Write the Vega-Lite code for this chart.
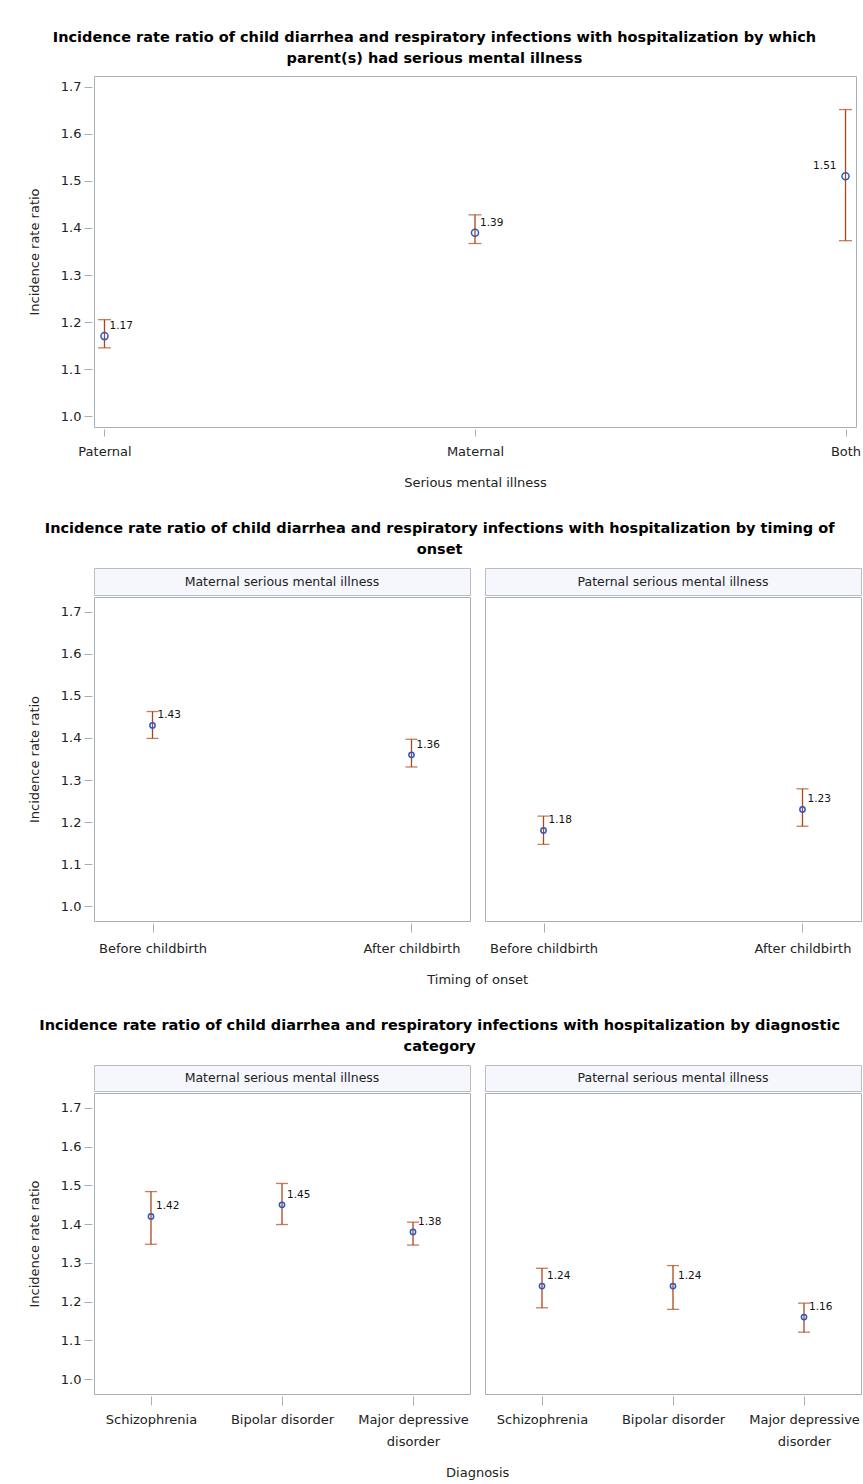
{
  "$schema": "https://vega.github.io/schema/vega-lite/v6.json",
  "padding": {"left": 27, "top": 29, "right": 0, "bottom": 0},
  "background": "white",
  "spacing": 31,
  "config": {
    "font": "DejaVu Sans",
    "view": {"stroke": "#a9b0b5"},
    "axis": {"labelFont": "DejaVu Sans", "labelFontSize": 13, "labelColor": "#222222", "titleFont": "DejaVu Sans", "titleFontSize": 13, "titleFontWeight": "normal", "titleColor": "#222222", "tickColor": "#a9b0b5", "domain": false, "grid": false},
    "title": {"font": "DejaVu Sans", "fontSize": 14.5, "fontWeight": "bold", "color": "#000000", "anchor": "middle", "lineHeight": 21, "offset": 10},
    "concat": {"spacing": 13}
  },
  "datasets": {
    "overall": [
      {"parent": "Paternal", "irr": 1.17, "lower": 1.145, "upper": 1.205},
      {"parent": "Maternal", "irr": 1.39, "lower": 1.367, "upper": 1.428},
      {"parent": "Both", "irr": 1.51, "lower": 1.373, "upper": 1.652}
    ],
    "timing": [
      {"panel": "Maternal serious mental illness", "timing": "Before childbirth", "irr": 1.43, "lower": 1.399, "upper": 1.463},
      {"panel": "Maternal serious mental illness", "timing": "After childbirth", "irr": 1.36, "lower": 1.331, "upper": 1.397},
      {"panel": "Paternal serious mental illness", "timing": "Before childbirth", "irr": 1.18, "lower": 1.147, "upper": 1.214},
      {"panel": "Paternal serious mental illness", "timing": "After childbirth", "irr": 1.23, "lower": 1.19, "upper": 1.279}
    ],
    "diagnosis": [
      {"panel": "Maternal serious mental illness", "diagnosis": "Schizophrenia", "irr": 1.42, "lower": 1.348, "upper": 1.484},
      {"panel": "Maternal serious mental illness", "diagnosis": "Bipolar disorder", "irr": 1.45, "lower": 1.399, "upper": 1.505},
      {"panel": "Maternal serious mental illness", "diagnosis": "Major depressive disorder", "irr": 1.38, "lower": 1.346, "upper": 1.405},
      {"panel": "Paternal serious mental illness", "diagnosis": "Schizophrenia", "irr": 1.24, "lower": 1.184, "upper": 1.286},
      {"panel": "Paternal serious mental illness", "diagnosis": "Bipolar disorder", "irr": 1.24, "lower": 1.18, "upper": 1.293},
      {"panel": "Paternal serious mental illness", "diagnosis": "Major depressive disorder", "irr": 1.16, "lower": 1.121, "upper": 1.196}
    ]
  },
  "vconcat": [
    {
      "title": {"text": ["Incidence rate ratio of child diarrhea and respiratory infections with hospitalization by which", "parent(s) had serious mental illness"], "frame": "bounds", "dx": -10},
      "data": {"name": "overall"},
      "width": 762,
      "height": 351,
      "encoding": {
        "x": {"field": "parent", "type": "nominal", "sort": ["Paternal", "Maternal", "Both"], "scale": {"type": "point", "padding": 0.0283}, "axis": {"labelAngle": 0, "offset": 2, "tickSize": 7, "labelPadding": 9, "titlePadding": 18}, "title": "Serious mental illness"}
      },
      "layer": [
        {"mark": {"type": "rule", "color": "#b04416", "strokeWidth": 1.3},
         "encoding": {"y": {"field": "lower", "type": "quantitative", "scale": {"domain": [0.9766, 1.7234], "nice": false, "zero": false}, "axis": {"values": [1, 1.1, 1.2, 1.3, 1.4, 1.5, 1.6, 1.7], "format": ".1f", "offset": 2, "tickSize": 8, "labelPadding": 3, "titlePadding": 19}, "title": "Incidence rate ratio"}, "y2": {"field": "upper"}}},
        {"mark": {"type": "tick", "orient": "horizontal", "size": 13, "thickness": 1.3, "color": "#b04416"},
         "encoding": {"y": {"field": "lower", "type": "quantitative", "title": "Incidence rate ratio"}}},
        {"mark": {"type": "tick", "orient": "horizontal", "size": 13, "thickness": 1.3, "color": "#b04416"},
         "encoding": {"y": {"field": "upper", "type": "quantitative", "title": "Incidence rate ratio"}}},
        {"mark": {"type": "point", "shape": "circle", "filled": false, "size": 50, "strokeWidth": 1.5, "color": "#2b59c3", "opacity": 1},
         "encoding": {"y": {"field": "irr", "type": "quantitative", "title": "Incidence rate ratio"}}},
        {"transform": [{"filter": "datum.parent != 'Both'"}],
         "mark": {"type": "text", "align": "left", "baseline": "middle", "dx": 5, "dy": -10, "fontSize": 10.5, "color": "#111111"},
         "encoding": {"y": {"field": "irr", "type": "quantitative", "title": "Incidence rate ratio"}, "text": {"field": "irr", "type": "quantitative", "format": ".2f"}}},
        {"transform": [{"filter": "datum.parent == 'Both'"}],
         "mark": {"type": "text", "align": "right", "baseline": "middle", "dx": -9, "dy": -10, "fontSize": 10.5, "color": "#111111"},
         "encoding": {"y": {"field": "irr", "type": "quantitative", "title": "Incidence rate ratio"}, "text": {"field": "irr", "type": "quantitative", "format": ".2f"}}}
      ]
    },
    {
      "title": {"text": ["Incidence rate ratio of child diarrhea and respiratory infections with hospitalization by timing of", "onset"], "dx": -5},
      "vconcat": [
        {
          "title": {"text": "Timing of onset", "orient": "bottom", "fontSize": 13, "fontWeight": "normal", "color": "#222222", "offset": 18, "frame": "bounds", "dx": 33},
          "hconcat": [
            {
              "spacing": 0,
              "vconcat": [
                {"data": {"name": "timing"}, "width": 376, "height": 27, "view": {"fill": "#f5f7fc", "stroke": "#b8bec2"},
                 "transform": [{"filter": "datum.panel == 'Maternal serious mental illness'"}, {"aggregate": [{"op": "count", "as": "n"}], "groupby": ["panel"]}],
                 "mark": {"type": "text", "fontSize": 12.5, "color": "#222222", "baseline": "middle", "align": "center"},
                 "encoding": {"text": {"field": "panel", "type": "nominal"}}},
                {"data": {"name": "timing"}, "width": 376, "height": 324,
                 "transform": [{"filter": "datum.panel == 'Maternal serious mental illness'"}],
                 "encoding": {"x": {"field": "timing", "type": "nominal", "sort": ["Before childbirth", "After childbirth"], "scale": {"type": "point", "padding": 0.2259}, "axis": {"labelAngle": 0, "offset": 2, "tickSize": 9, "labelPadding": 10}, "title": null}},
                 "layer": [
                   {"mark": {"type": "rule", "color": "#b04416", "strokeWidth": 1.3},
                    "encoding": {"y": {"field": "lower", "type": "quantitative", "scale": {"domain": [0.9645, 1.7355], "nice": false, "zero": false}, "axis": {"values": [1, 1.1, 1.2, 1.3, 1.4, 1.5, 1.6, 1.7], "format": ".1f", "offset": 2, "tickSize": 8, "labelPadding": 3, "titlePadding": 19}, "title": "Incidence rate ratio"}, "y2": {"field": "upper"}}},
                   {"mark": {"type": "tick", "orient": "horizontal", "size": 12, "thickness": 1.3, "color": "#b04416"},
                    "encoding": {"y": {"field": "lower", "type": "quantitative", "title": "Incidence rate ratio"}}},
                   {"mark": {"type": "tick", "orient": "horizontal", "size": 12, "thickness": 1.3, "color": "#b04416"},
                    "encoding": {"y": {"field": "upper", "type": "quantitative", "title": "Incidence rate ratio"}}},
                   {"mark": {"type": "point", "shape": "circle", "filled": false, "size": 28, "strokeWidth": 1.5, "color": "#2b59c3", "opacity": 1},
                    "encoding": {"y": {"field": "irr", "type": "quantitative", "title": "Incidence rate ratio"}}},
                   {"mark": {"type": "text", "align": "left", "baseline": "middle", "dx": 5, "dy": -10, "fontSize": 10.5, "color": "#111111"},
                    "encoding": {"y": {"field": "irr", "type": "quantitative", "title": "Incidence rate ratio"}, "text": {"field": "irr", "type": "quantitative", "format": ".2f"}}}
                 ]}
              ]
            },
            {
              "spacing": 0,
              "vconcat": [
                {"data": {"name": "timing"}, "width": 376, "height": 27, "view": {"fill": "#f5f7fc", "stroke": "#b8bec2"},
                 "transform": [{"filter": "datum.panel == 'Paternal serious mental illness'"}, {"aggregate": [{"op": "count", "as": "n"}], "groupby": ["panel"]}],
                 "mark": {"type": "text", "fontSize": 12.5, "color": "#222222", "baseline": "middle", "align": "center"},
                 "encoding": {"text": {"field": "panel", "type": "nominal"}}},
                {"data": {"name": "timing"}, "width": 376, "height": 324,
                 "transform": [{"filter": "datum.panel == 'Paternal serious mental illness'"}],
                 "encoding": {"x": {"field": "timing", "type": "nominal", "sort": ["Before childbirth", "After childbirth"], "scale": {"type": "point", "padding": 0.2259}, "axis": {"labelAngle": 0, "offset": 2, "tickSize": 9, "labelPadding": 10}, "title": null}},
                 "layer": [
                   {"mark": {"type": "rule", "color": "#b04416", "strokeWidth": 1.3},
                    "encoding": {"y": {"field": "lower", "type": "quantitative", "scale": {"domain": [0.9645, 1.7355], "nice": false, "zero": false}, "axis": null}, "y2": {"field": "upper"}}},
                   {"mark": {"type": "tick", "orient": "horizontal", "size": 12, "thickness": 1.3, "color": "#b04416"},
                    "encoding": {"y": {"field": "lower", "type": "quantitative", "axis": null}}},
                   {"mark": {"type": "tick", "orient": "horizontal", "size": 12, "thickness": 1.3, "color": "#b04416"},
                    "encoding": {"y": {"field": "upper", "type": "quantitative", "axis": null}}},
                   {"mark": {"type": "point", "shape": "circle", "filled": false, "size": 28, "strokeWidth": 1.5, "color": "#2b59c3", "opacity": 1},
                    "encoding": {"y": {"field": "irr", "type": "quantitative", "axis": null}}},
                   {"mark": {"type": "text", "align": "left", "baseline": "middle", "dx": 5, "dy": -10, "fontSize": 10.5, "color": "#111111"},
                    "encoding": {"y": {"field": "irr", "type": "quantitative", "axis": null}, "text": {"field": "irr", "type": "quantitative", "format": ".2f"}}}
                 ]}
              ]
            }
          ]
        }
      ]
    },
    {
      "title": {"text": ["Incidence rate ratio of child diarrhea and respiratory infections with hospitalization by diagnostic", "category"], "dx": -5},
      "vconcat": [
        {
          "title": {"text": "Diagnosis", "orient": "bottom", "fontSize": 13, "fontWeight": "normal", "color": "#222222", "offset": 18, "frame": "bounds", "dx": 33},
          "hconcat": [
            {
              "spacing": 0,
              "vconcat": [
                {"data": {"name": "diagnosis"}, "width": 376, "height": 26, "view": {"fill": "#f5f7fc", "stroke": "#b8bec2"},
                 "transform": [{"filter": "datum.panel == 'Maternal serious mental illness'"}, {"aggregate": [{"op": "count", "as": "n"}], "groupby": ["panel"]}],
                 "mark": {"type": "text", "fontSize": 12.5, "color": "#222222", "baseline": "middle", "align": "center"},
                 "encoding": {"text": {"field": "panel", "type": "nominal"}}},
                {"data": {"name": "diagnosis"}, "width": 376, "height": 301,
                 "transform": [{"filter": "datum.panel == 'Maternal serious mental illness'"}],
                 "encoding": {"x": {"field": "diagnosis", "type": "nominal", "sort": ["Schizophrenia", "Bipolar disorder", "Major depressive disorder"], "scale": {"type": "point", "padding": 0.435}, "axis": {"labelAngle": 0, "offset": 2, "tickSize": 9, "labelPadding": 8, "labelLineHeight": 22, "labelExpr": "datum.label == 'Major depressive disorder' ? ['Major depressive', 'disorder'] : datum.label"}, "title": null}},
                 "layer": [
                   {"mark": {"type": "rule", "color": "#b04416", "strokeWidth": 1.3},
                    "encoding": {"y": {"field": "lower", "type": "quantitative", "scale": {"domain": [0.9614, 1.7386], "nice": false, "zero": false}, "axis": {"values": [1, 1.1, 1.2, 1.3, 1.4, 1.5, 1.6, 1.7], "format": ".1f", "offset": 2, "tickSize": 8, "labelPadding": 3, "titlePadding": 19}, "title": "Incidence rate ratio"}, "y2": {"field": "upper"}}},
                   {"mark": {"type": "tick", "orient": "horizontal", "size": 12, "thickness": 1.3, "color": "#b04416"},
                    "encoding": {"y": {"field": "lower", "type": "quantitative", "title": "Incidence rate ratio"}}},
                   {"mark": {"type": "tick", "orient": "horizontal", "size": 12, "thickness": 1.3, "color": "#b04416"},
                    "encoding": {"y": {"field": "upper", "type": "quantitative", "title": "Incidence rate ratio"}}},
                   {"mark": {"type": "point", "shape": "circle", "filled": false, "size": 28, "strokeWidth": 1.5, "color": "#2b59c3", "opacity": 1},
                    "encoding": {"y": {"field": "irr", "type": "quantitative", "title": "Incidence rate ratio"}}},
                   {"mark": {"type": "text", "align": "left", "baseline": "middle", "dx": 5, "dy": -10, "fontSize": 10.5, "color": "#111111"},
                    "encoding": {"y": {"field": "irr", "type": "quantitative", "title": "Incidence rate ratio"}, "text": {"field": "irr", "type": "quantitative", "format": ".2f"}}}
                 ]}
              ]
            },
            {
              "spacing": 0,
              "vconcat": [
                {"data": {"name": "diagnosis"}, "width": 376, "height": 26, "view": {"fill": "#f5f7fc", "stroke": "#b8bec2"},
                 "transform": [{"filter": "datum.panel == 'Paternal serious mental illness'"}, {"aggregate": [{"op": "count", "as": "n"}], "groupby": ["panel"]}],
                 "mark": {"type": "text", "fontSize": 12.5, "color": "#222222", "baseline": "middle", "align": "center"},
                 "encoding": {"text": {"field": "panel", "type": "nominal"}}},
                {"data": {"name": "diagnosis"}, "width": 376, "height": 301,
                 "transform": [{"filter": "datum.panel == 'Paternal serious mental illness'"}],
                 "encoding": {"x": {"field": "diagnosis", "type": "nominal", "sort": ["Schizophrenia", "Bipolar disorder", "Major depressive disorder"], "scale": {"type": "point", "padding": 0.435}, "axis": {"labelAngle": 0, "offset": 2, "tickSize": 9, "labelPadding": 8, "labelLineHeight": 22, "labelExpr": "datum.label == 'Major depressive disorder' ? ['Major depressive', 'disorder'] : datum.label"}, "title": null}},
                 "layer": [
                   {"mark": {"type": "rule", "color": "#b04416", "strokeWidth": 1.3},
                    "encoding": {"y": {"field": "lower", "type": "quantitative", "scale": {"domain": [0.9614, 1.7386], "nice": false, "zero": false}, "axis": null}, "y2": {"field": "upper"}}},
                   {"mark": {"type": "tick", "orient": "horizontal", "size": 12, "thickness": 1.3, "color": "#b04416"},
                    "encoding": {"y": {"field": "lower", "type": "quantitative", "axis": null}}},
                   {"mark": {"type": "tick", "orient": "horizontal", "size": 12, "thickness": 1.3, "color": "#b04416"},
                    "encoding": {"y": {"field": "upper", "type": "quantitative", "axis": null}}},
                   {"mark": {"type": "point", "shape": "circle", "filled": false, "size": 28, "strokeWidth": 1.5, "color": "#2b59c3", "opacity": 1},
                    "encoding": {"y": {"field": "irr", "type": "quantitative", "axis": null}}},
                   {"mark": {"type": "text", "align": "left", "baseline": "middle", "dx": 5, "dy": -10, "fontSize": 10.5, "color": "#111111"},
                    "encoding": {"y": {"field": "irr", "type": "quantitative", "axis": null}, "text": {"field": "irr", "type": "quantitative", "format": ".2f"}}}
                 ]}
              ]
            }
          ]
        }
      ]
    }
  ]
}
